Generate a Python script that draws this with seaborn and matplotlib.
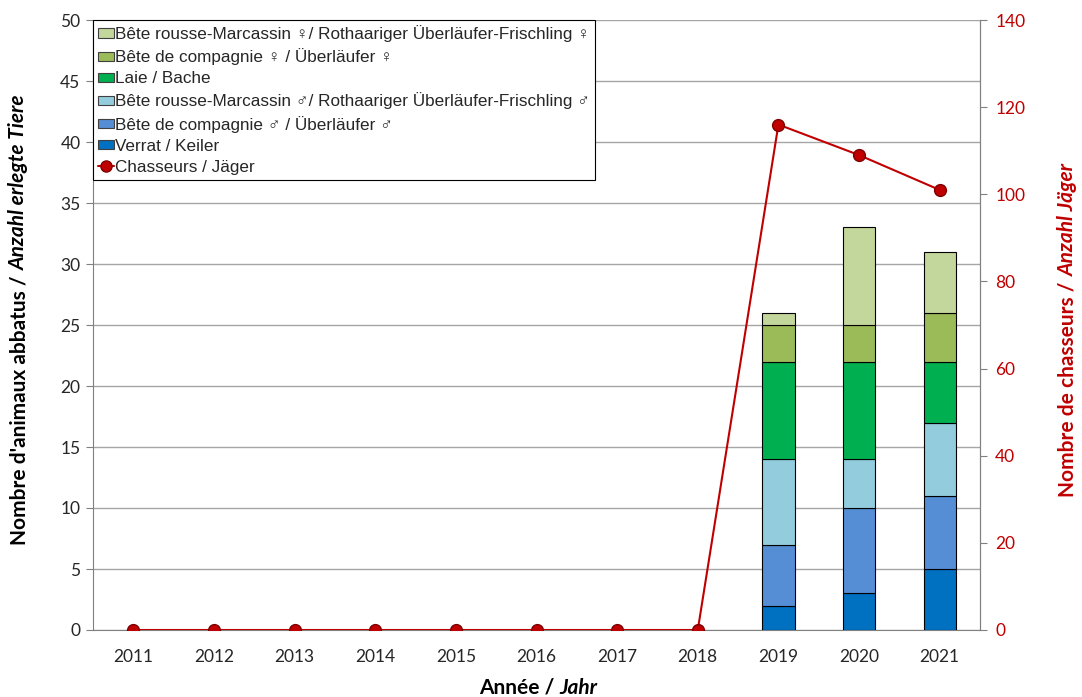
import numpy as np
import pandas as pd
import matplotlib
matplotlib.use('Agg')
import matplotlib.pyplot as plt
import seaborn as sns
from matplotlib.lines import Line2D
from matplotlib.patches import Patch

# data
years = ['2011', '2012', '2013', '2014', '2015', '2016', '2017', '2018', '2019', '2020', '2021']
verrat = [0, 0, 0, 0, 0, 0, 0, 0, 2, 3, 5]
compagnie_m = [0, 0, 0, 0, 0, 0, 0, 0, 5, 7, 6]
rousse_m = [0, 0, 0, 0, 0, 0, 0, 0, 7, 4, 6]
laie = [0, 0, 0, 0, 0, 0, 0, 0, 8, 8, 5]
compagnie_f = [0, 0, 0, 0, 0, 0, 0, 0, 3, 3, 4]
rousse_f = [0, 0, 0, 0, 0, 0, 0, 0, 1, 8, 5]
chasseurs = [0, 0, 0, 0, 0, 0, 0, 0, 116, 109, 101]

series = [
    ('Verrat / Keiler', verrat, '#0070C0'),
    ('Bête de compagnie ♂ / Überläufer ♂', compagnie_m, '#558ED5'),
    ('Bête rousse-Marcassin ♂/ Rothaariger Überläufer-Frischling ♂', rousse_m, '#93CDDD'),
    ('Laie / Bache', laie, '#00B050'),
    ('Bête de compagnie ♀ / Überläufer ♀', compagnie_f, '#9BBB59'),
    ('Bête rousse-Marcassin ♀/ Rothaariger Überläufer-Frischling ♀', rousse_f, '#C3D69B'),
]

sns.set_style('white')
plt.rcParams['font.family'] = ['Lato', 'DejaVu Sans']

W, H = 1082, 697
fig = plt.figure(figsize=(W / 100, H / 100), dpi=100)
ax = fig.add_axes([93 / W, 1 - 630 / H, (980 - 93) / W, 610 / H])

red = '#C00000'
grid_c = '#A6A6A6'

bottom = np.zeros(len(years))
handles = []
for name, vals, col in series:
    df = pd.DataFrame({'year': years, 'n': vals})
    sns.barplot(data=df, x='year', y='n', order=years, bottom=bottom, color=col,
                width=0.4, edgecolor='black', linewidth=0.8, ax=ax, zorder=3,
                errorbar=None, saturation=1)
    bottom = bottom + np.array(vals)
    handles.append(Patch(facecolor=col, edgecolor='#404040', linewidth=0.8, label=name))

# empty bars should not leave an outline on the baseline
for p in ax.patches:
    if p.get_height() == 0:
        p.set_linewidth(0)

ax.set_ylim(0, 50)
ax.set_xlim(-0.5, len(years) - 0.5)
ax.set_yticks(range(0, 51, 5))
ax.yaxis.grid(True, color=grid_c, linewidth=1, zorder=0)
ax.set_axisbelow(True)
ax.set_xlabel('')
ax.set_ylabel('')
ax.set_xticks(np.arange(len(years)))
ax.set_xticklabels(years)
ax.set_xticks(np.arange(len(years) + 1) - 0.5, minor=True)
ax.tick_params(axis='x', which='major', length=0, labelsize=12.5, pad=14)
ax.tick_params(axis='x', which='minor', length=5, direction='out', color='#808080', width=1)
ax.tick_params(axis='y', length=5, direction='out', color='#808080', labelsize=12.5, pad=4)
ax.spines['top'].set_visible(False)
for s in ['left', 'bottom', 'right']:
    ax.spines[s].set_color('#808080')

ax2 = ax.twinx()
sns.lineplot(x=np.arange(len(years)), y=chasseurs, ax=ax2, color=red, linewidth=1.5,
             marker='o', markersize=8.5, markerfacecolor=red, markeredgecolor='#7F0000',
             markeredgewidth=1, zorder=5)
ax2.set_ylim(0, 140)
ax2.set_yticks(range(0, 141, 20))
ax2.tick_params(axis='y', length=5, direction='out', color='#808080', labelcolor=red,
                labelsize=12.5, pad=6)
ax2.spines['top'].set_visible(False)
ax2.spines['right'].set_color('#808080')
ax2.spines['left'].set_visible(False)
ax2.spines['bottom'].set_visible(False)
ax2.set_ylabel('')
ax2.set_xlim(-0.5, len(years) - 0.5)
ax2.grid(False)

line_h = Line2D([0], [0], color=red, linewidth=1.5, marker='o', markersize=8,
                markerfacecolor=red, markeredgecolor='#7F0000', label='Chasseurs / Jäger')
leg_handles = handles[::-1] + [line_h]
leg = ax2.legend(handles=leg_handles, loc='upper left', bbox_to_anchor=(0, 1),
                 borderaxespad=0, frameon=True, fancybox=False, edgecolor='black',
                 framealpha=1, handlelength=0.9, handleheight=0.45, handletextpad=0.1,
                 labelspacing=0.36, borderpad=0.3,
                 prop={'family': ['Liberation Sans', 'Noto Sans CJK SC', 'DejaVu Sans'],
                       'size': 12.3})
leg.get_frame().set_linewidth(0.8)


def mixed_label(x, y, parts, rotation=0, color='black', size=15, gap=5):
    texts = []
    for s, style in parts:
        t = fig.text(0, 0, s, fontsize=size, fontweight='bold', fontstyle=style, color=color,
                     rotation=rotation, rotation_mode='anchor', ha='left', va='center')
        texts.append(t)
    fig.canvas.draw()
    r = fig.canvas.get_renderer()
    lens = []
    for t in texts:
        bb = t.get_window_extent(r)
        lens.append(bb.width if rotation == 0 else bb.height)
    total = sum(lens) + gap * (len(lens) - 1)
    start = -total / 2
    for t, L in zip(texts, lens):
        if rotation == 0:
            t.set_position(((x + start) / W, 1 - y / H))
        else:
            t.set_position((x / W, 1 - (y - start) / H))
        start += L + gap


mixed_label(538, 688, [('Année /', 'normal'), ('Jahr', 'italic')])
mixed_label(19, 320, [("Nombre d'animaux abbatus /", 'normal'), ('Anzahl erlegte Tiere', 'italic')],
            rotation=90)
mixed_label(1068, 330, [('Nombre de chasseurs /', 'normal'), ('Anzahl Jäger', 'italic')],
            rotation=90, color=red)

fig.savefig('out.png', dpi=100)
